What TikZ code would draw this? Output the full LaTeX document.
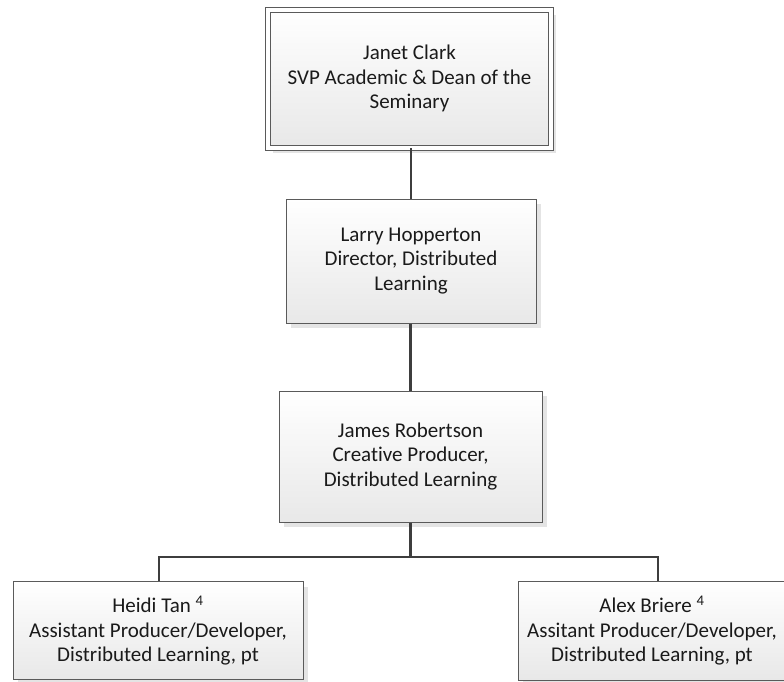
\documentclass[tikz,border=0pt]{standalone}
\usepackage{fontspec}
\setmainfont{Carlito}[Ligatures=NoCommon]
\usetikzlibrary{shadows}
\definecolor{boxline}{HTML}{5A5A5A}
\definecolor{connline}{HTML}{3E3E3E}
\definecolor{boxbot}{HTML}{E8E8E8}
\definecolor{shadowgray}{HTML}{E4E4E4}
\definecolor{txt}{HTML}{1A1A1A}
\tikzset{
  orgbox/.style={draw=boxline, line width=1pt, top color=white, bottom color=boxbot,
    align=center, inner sep=0pt, text=txt, font=\fontsize{21}{24.5}\selectfont,
    drop shadow={shadow xshift=5pt, shadow yshift=-5pt, fill=shadowgray, opacity=1}},
  topbox/.style={orgbox, double=white, double distance=4pt},
  conn/.style={draw=connline, line width=2.6pt}
}
\begin{document}
\begin{tikzpicture}[x=1pt,y=-1pt]
\useasboundingbox (0,0) rectangle (784,681);
\node[topbox, minimum width=283pt, minimum height=138pt] (top) at (409.5,78.5)
  {Janet Clark\\SVP Academic \& Dean of the\\Seminary};
\node[orgbox, minimum width=250pt, minimum height=124pt] (n2) at (411,261)
  {Larry Hopperton\\Director, Distributed\\Learning};
\node[orgbox, minimum width=263pt, minimum height=131pt] (n3) at (410.5,456.5)
  {James Robertson\\Creative Producer,\\Distributed Learning};
\node[orgbox, minimum width=290pt, minimum height=98pt] (hl) at (158,630.5)
  {Heidi Tan \textsuperscript{4}\\Assistant Producer/Developer,\\Distributed Learning, pt};
\node[orgbox, minimum width=268pt, minimum height=99pt] (br) at (652,630.5)
  {Alex Briere \textsuperscript{4}\\Assitant Producer/Developer,\\Distributed Learning, pt};
\coordinate (bus) at (410.5,557);
\coordinate (busL) at (159,557);
\coordinate (busR) at (658,557);
\draw[conn] (top.south -| n2.north) -- (n2.north);
\draw[conn] (n2.south -| n3.north) -- (n3.north);
\draw[conn] (n3.south) -- (bus);
\draw[conn] (busL |- hl.north) -- (busL) -- (busR) -- (busR |- br.north);
\end{tikzpicture}
\end{document}
